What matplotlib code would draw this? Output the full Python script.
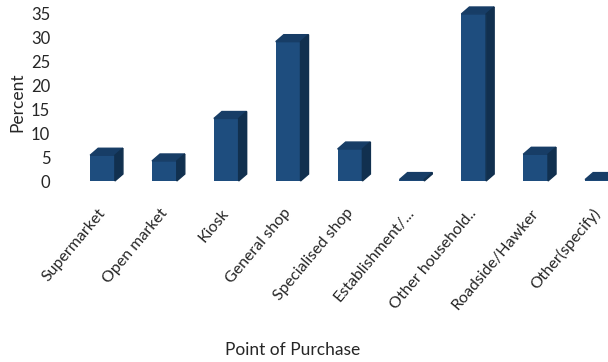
import matplotlib
matplotlib.use("Agg")
import matplotlib.pyplot as plt
import matplotlib.transforms as mtransforms
from matplotlib.patches import Polygon

categories = ["Supermarket", "Open market", "Kiosk", "General shop", "Specialised shop",
              "Establishment/...", "Other household..", "Roadside/Hawker", "Other(specify)"]
percent = [5.4, 4.2, 13.1, 29.2, 6.7, 0.3, 35.0, 5.6, 0.3]

front_col = "#1e4d7e"
top_col = "#173d66"
side_col = "#11304f"

plt.rcParams["font.family"] = ["Lato", "DejaVu Sans"]

fig = plt.figure(figsize=(6.08, 3.62), dpi=100)
ax = fig.add_axes([60 / 608, 0.5, 1 - 60 / 608, 0.497])

w = 0.4
dx, dy = 0.13, 1.46
xs = list(range(len(categories)))

ax.bar(xs, percent, width=w, color=front_col, zorder=2)
for x, v in zip(xs, percent):
    x0, x1 = x - w / 2, x + w / 2
    ax.add_patch(Polygon([(x0, v), (x0 + dx, v + dy), (x1 + dx, v + dy), (x1, v)],
                         closed=True, color=top_col, zorder=3, clip_on=False))
    ax.add_patch(Polygon([(x1, 0), (x1 + dx, dy), (x1 + dx, v + dy), (x1, v)],
                         closed=True, color=side_col, zorder=3, clip_on=False))

ax.set_xlim(-0.687, 8.17)
ax.set_ylim(0, 37.7)
ax.set_yticks(range(0, 36, 5))
ax.tick_params(axis="y", length=0, pad=7, labelsize=12, labelcolor="#262626")
ax.set_xticks(xs)
ax.set_xticklabels(categories, rotation=50, ha="right", rotation_mode="anchor",
                   fontsize=11.5, color="#262626")
ax.tick_params(axis="x", length=0, pad=18)
shift = mtransforms.ScaledTranslation(-5 / 100, 0, fig.dpi_scale_trans)
for lab in ax.get_xticklabels():
    lab.set_transform(lab.get_transform() + shift)
for s in ax.spines.values():
    s.set_visible(False)

fig.text(17 / 608, 1 - 102 / 362, "Percent", rotation=90, ha="center", va="center",
         fontsize=12.5, color="#262626")
fig.text(293 / 608, 1 - 350 / 362, "Point of Purchase", ha="center", va="center",
         fontsize=12.5, color="#262626")

fig.savefig("out.png", dpi=100)
